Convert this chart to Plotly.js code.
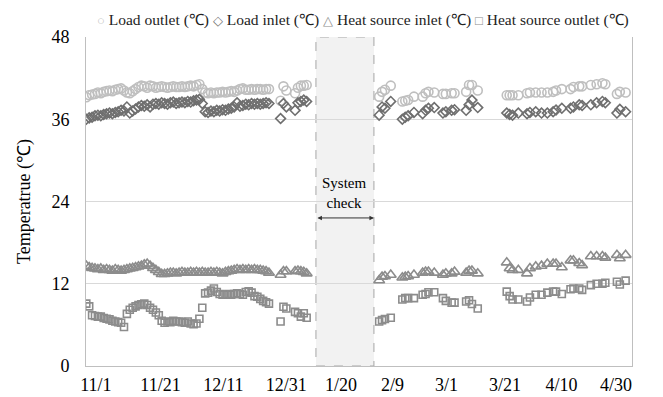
<!DOCTYPE html>
<html><head><meta charset="utf-8">
<script src="https://cdn.plot.ly/plotly-3.0.1.min.js"></script>
<style>html,body{margin:0;padding:0;background:#fff}#chart{width:663px;height:397px}</style>
</head><body><div id="chart"></div>
<script>
// x values are days counted from 11/1 (positions)
const tickDays = [0.3,22.6,44.3,66,84.8,102.6,121.2,141.4,160.9,179.7];
const tickLabels = ['11/1','11/21','12/11','12/31','1/20','2/9','3/1','3/21','4/10','4/30'];

// segment 1 (daily, Nov - Dec)
const days1 = [-3,-2,-1,0,1,2,3,4,5,6,7,8,9,10,11,12,13,14,15,16,17,18,19,20,21,22,23,24,25,26,27,28,29,30,31,32,33,34,35,36,37,38,39,40,41,42,43,44,45,46,47,48,49,50,51,52,53,54,55,56,57,58,59,60];
const loadOut1 = [39.2,39.5,39.6,39.7,39.9,39.8,40.0,40.1,40.2,40.1,40.3,40.4,40.5,40.2,39.9,39.8,40.1,40.4,40.7,40.9,40.8,40.6,40.9,40.8,40.6,40.7,40.8,40.7,40.6,40.7,40.8,40.7,40.7,40.8,40.7,40.8,40.9,40.8,41.0,41.1,40.4,39.9,39.8,39.9,39.8,39.9,39.9,40.0,39.9,40.0,40.1,40.0,40.2,40.4,40.5,40.3,40.3,40.4,40.3,40.4,40.4,40.3,40.4,40.4];
const loadIn1 = [36.0,36.2,36.3,36.5,36.6,36.5,36.7,36.8,36.9,36.8,37.0,37.1,37.3,37.2,37.8,36.9,37.2,37.5,37.8,38.0,37.9,38.1,37.8,38.2,38.3,38.2,38.4,38.3,38.2,38.4,38.5,38.3,38.4,38.5,38.4,38.6,38.5,38.7,38.8,38.9,38.3,37.1,37.0,37.2,37.1,37.3,37.2,37.4,37.3,37.5,37.6,37.8,38.4,37.9,38.0,38.2,38.1,38.3,38.2,38.3,38.2,38.3,38.4,38.3];
const srcIn1 = [14.6,14.4,14.3,14.2,14.1,14.2,14.0,14.1,14.0,13.9,14.1,14.0,13.9,14.0,14.1,14.2,14.3,14.4,14.5,14.6,14.8,14.9,14.6,14.3,14.0,13.7,13.4,13.4,13.5,13.6,13.6,13.5,13.6,13.7,13.6,13.6,13.7,13.6,13.7,13.6,13.7,13.6,13.6,13.7,13.6,13.7,13.6,13.5,13.7,13.8,13.9,14.0,14.1,14.0,14.1,14.0,14.1,14.0,14.1,14.0,14.0,13.9,13.8,13.6];
const srcOut1 = [9.1,8.7,7.4,7.3,7.2,7.2,7.0,6.9,6.8,6.6,6.5,6.4,6.3,5.7,7.6,8.2,8.5,8.7,8.9,9.0,9.1,8.9,8.5,8.2,7.8,7.4,6.6,6.3,6.5,6.4,6.6,6.5,6.5,6.4,6.3,6.5,6.2,6.1,6.2,6.9,8.5,10.6,10.7,11.0,11.3,10.8,10.5,10.4,10.4,10.5,10.4,10.5,10.6,10.5,10.4,10.8,10.9,10.7,10.2,10.1,9.8,9.5,9.3,9.1];

// segment 2 (early January)
const days2 = [64,65,66,69,70,71,72,73];
const loadOut2 = [38.7,40.8,40.2,39.8,40.6,40.9,40.9,41.0];
const loadIn2 = [36.1,38.3,37.8,37.3,38.4,38.6,38.8,38.6];
const srcIn2 = [13.3,13.8,13.8,13.8,13.9,13.8,13.7,13.5];
const srcOut2 = [6.5,8.65,8.4,7.9,7.7,7.2,7.7,7.05];

// segment 3 (February - early March)
const days3 = [98,99,100,102,106,107,108,110,113,114,115,117,120,121,123,124,128,129,130,132];
const loadOut3 = [39.3,40.0,40.3,40.9,38.6,38.7,38.8,39.3,39.3,39.8,40.0,39.9,39.7,39.7,39.8,39.8,40.0,41.0,41.0,40.2];
const loadIn3 = [36.6,37.8,37.6,38.6,36.0,36.3,36.5,37.0,36.8,37.3,37.6,37.7,36.9,37.1,37.3,37.4,37.3,38.1,38.8,37.7];
const srcIn3 = [12.5,13.0,13.1,13.3,12.9,13.0,13.1,13.3,13.6,13.75,13.75,13.6,13.3,13.5,13.5,13.75,13.6,13.9,13.9,13.5];
const srcOut3 = [6.5,6.7,6.86,7.05,9.7,9.9,9.9,9.9,10.4,10.5,10.75,10.75,9.9,9.5,9.25,9.25,9.4,9.6,9.05,8.4];

// segment 4 (mid March - April)
const days4 = [142,143,144,146,149,150,152,154,156,158,159,161,164,165,167,168,171,173,175,176,180,181,183];
const loadOut4 = [39.5,39.5,39.5,39.5,39.8,39.9,39.9,39.9,39.9,40.0,40.2,40.4,40.4,40.7,40.8,40.8,41.0,41.1,41.25,41.1,39.7,40.0,39.9];
const loadIn4 = [36.9,36.7,36.6,36.9,36.8,37.0,37.1,36.9,36.9,37.1,37.35,37.6,37.6,37.8,38.1,38.0,38.1,38.4,38.6,38.4,36.9,37.45,37.1];
const srcIn4 = [15.1,14.25,14.0,14.0,13.5,14.25,14.5,14.6,14.9,14.9,14.9,14.4,15.4,15.4,15.0,14.7,16.0,16.0,16.0,15.8,16.2,15.7,16.2];
const srcOut4 = [10.85,10.2,9.7,9.7,9.4,10.0,10.4,10.4,10.7,10.85,10.85,10.5,11.2,11.3,11.3,11.1,11.8,12.0,12.0,12.15,12.3,11.9,12.45];

const seriesNames = ['Load outlet','Load inlet','Heat source inlet','Heat source outlet'];
const legendGlyphs = ['○','◇','△','□'];
const checkStart = 76.2, checkEnd = 96.2;

const days = [].concat(days1, days2, days3, days4);
const all = [
  [].concat(loadOut1, loadOut2, loadOut3, loadOut4),
  [].concat(loadIn1, loadIn2, loadIn3, loadIn4),
  [].concat(srcIn1, srcIn2, srcIn3, srcIn4),
  [].concat(srcOut1, srcOut2, srcOut3, srcOut4)
];
const styles = [
  {symbol:'circle-open', color:'#bfbfbf', size:9},
  {symbol:'diamond-open', color:'#6f6f6f', size:7.5},
  {symbol:'triangle-up-open', color:'#8c8c8c', size:9.5},
  {symbol:'square-open', color:'#8c8c8c', size:7}
];
const traces = all.map((ys, i) => ({
  type:'scatter', mode:'markers', name: seriesNames[i] + ' (℃)', x: days, y: ys,
  marker:{symbol:styles[i].symbol, size:styles[i].size, color:styles[i].color, line:{width:1.6, color:styles[i].color}}
}));

const legendText = seriesNames.map((n, i) =>
  '<span style="color:' + styles[i].color + ';font-size:13px">' + legendGlyphs[i] + '</span> ' + n + ' (℃)'
).join(' ');

const serif = 'Liberation Serif, Times New Roman, serif';
const layout = {
  width:663, height:397,
  margin:{l:86, r:31, t:37, b:31},
  paper_bgcolor:'#fff', plot_bgcolor:'#fff',
  font:{family:serif, size:18, color:'#000'},
  showlegend:false,
  xaxis:{range:[-3.1,185.2], tickmode:'array', tickvals:tickDays, ticktext:tickLabels, showgrid:false, zeroline:false,
    showline:true, linecolor:'#bfbfbf', linewidth:1, ticks:'', tickfont:{family:serif, size:18}, ticklabelstandoff:2},
  yaxis:{range:[0,48], tickvals:[0,12,24,36,48], showgrid:true, gridcolor:'#d9d9d9', zeroline:false,
    showline:true, linecolor:'#bfbfbf', linewidth:1, mirror:true, ticks:'', tickfont:{family:serif, size:18}, ticklabelstandoff:12,
    title:{text:'Temperatrue (℃)', font:{family:serif, size:18}, standoff:16}},
  shapes:[{type:'rect', xref:'x', yref:'y', x0:checkStart, x1:checkEnd, y0:0, y1:48,
    fillcolor:'#f2f2f2', line:{color:'#a6a6a6', width:1, dash:'dash'}, layer:'below'}],
  annotations:[
    {xref:'paper', yref:'paper', x:0.508, y:1.052, xanchor:'center', yanchor:'middle', text:legendText, showarrow:false,
     font:{family:serif, size:15.5, color:'#222'}},
    {x:(checkStart+checkEnd)/2, y:25.3, xref:'x', yref:'y', text:'System<br>check', showarrow:false, font:{family:serif, size:15, color:'#000'}},
    {x:checkEnd, y:21.6, ax:checkStart, ay:21.6, xref:'x', yref:'y', axref:'x', ayref:'y', text:'', showarrow:true,
     arrowhead:2, startarrowhead:2, arrowside:'end+start', arrowsize:0.9, arrowwidth:1, arrowcolor:'#333'}
  ]
};
Plotly.newPlot('chart', traces, layout, {displayModeBar:false, staticPlot:true});
</script></body></html>
